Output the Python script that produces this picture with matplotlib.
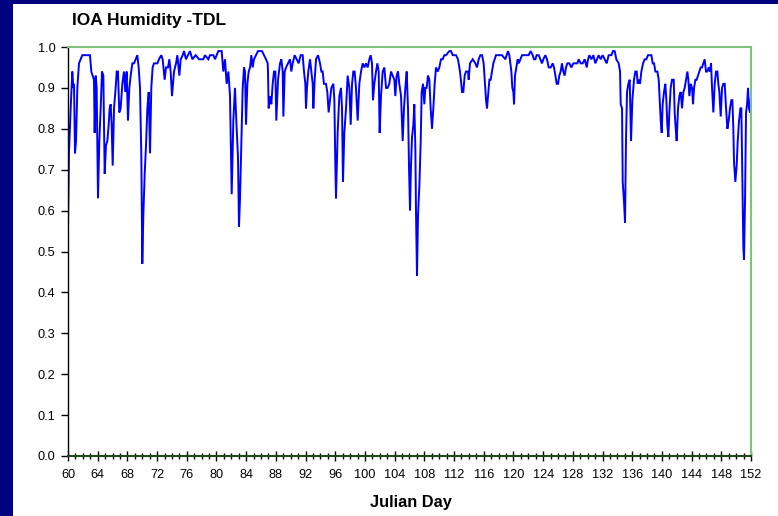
#!/usr/bin/env python3

import matplotlib
matplotlib.use("Agg")
import matplotlib.pyplot as plt
from matplotlib.patches import Rectangle

title = "IOA Humidity -TDL"
xlabel = "Julian Day"

day = [
    60.00, 60.13, 60.36, 60.58, 60.72, 60.81, 60.94, 61.08, 61.26, 61.48, 61.71, 61.93,
    62.96, 63.14, 63.32, 63.50, 63.59, 63.73, 63.86, 64.04, 64.22, 64.40, 64.58, 64.76,
    64.94, 65.12, 65.30, 65.48, 65.61, 65.75, 65.88, 66.02, 66.20, 66.42, 66.56, 66.73,
    66.91, 67.09, 67.32, 67.54, 67.72, 67.90, 68.08, 68.26, 68.44, 68.67, 68.89, 69.11,
    69.34, 69.52, 69.70, 69.88, 70.01, 70.15, 70.33, 70.51, 70.69, 70.87, 71.05, 71.22,
    71.40, 71.58, 72.03, 72.26, 72.57, 72.75, 73.02, 73.20, 73.47, 73.65, 73.83, 74.01,
    74.28, 74.55, 74.73, 75.00, 75.18, 75.45, 75.63, 75.89, 76.16, 76.43, 76.75, 77.20,
    77.65, 78.23, 78.45, 78.90, 79.13, 79.58, 79.80, 80.03, 80.25, 80.70, 80.92, 81.15,
    81.37, 81.60, 81.82, 82.05, 82.27, 82.49, 82.72, 82.90, 83.03, 83.17, 83.35, 83.53,
    83.71, 83.84, 83.98, 84.16, 84.34, 84.52, 84.70, 84.87, 85.05, 85.32, 85.59, 85.86,
    86.13, 86.40, 86.67, 86.90, 86.94, 87.03, 87.21, 87.39, 87.57, 87.75, 87.93, 88.06,
    88.29, 88.56, 88.74, 88.92, 89.01, 89.19, 89.37, 89.63, 89.90, 90.08, 90.26, 90.53,
    90.80, 91.07, 91.34, 91.61, 91.79, 91.97, 92.06, 92.19, 92.37, 92.60, 92.78, 92.96,
    93.05, 93.23, 93.41, 93.68, 93.95, 94.13, 94.30, 94.48, 94.75, 94.93, 95.11, 95.29,
    95.47, 95.74, 95.88, 96.01, 96.10, 96.32, 96.55, 96.77, 96.91, 97.04, 97.22, 97.45,
    97.67, 97.90, 98.08, 98.26, 98.43, 98.61, 98.79, 99.02, 99.24, 99.47, 99.69, 99.92,
    100.14, 100.37, 100.59, 100.77, 100.95, 101.08, 101.26, 101.49, 101.67, 101.85, 101.98, 102.16,
    102.39, 102.61, 102.84, 103.06, 103.28, 103.51, 103.73, 103.96, 104.09, 104.27, 104.45, 104.63,
    104.86, 105.08, 105.26, 105.44, 105.62, 105.80, 105.93, 106.07, 106.20, 106.34, 106.52, 106.65,
    106.79, 106.88, 107.01, 107.15, 107.33, 107.51, 107.64, 107.82, 108.00, 108.13, 108.31, 108.49,
    108.67, 108.85, 109.03, 109.21, 109.39, 109.57, 109.80, 110.02, 110.24, 110.47, 110.69, 110.92,
    111.37, 111.59, 111.82, 112.27, 112.53, 112.80, 112.98, 113.07, 113.25, 113.43, 113.61, 113.88,
    113.97, 114.15, 114.51, 114.87, 115.09, 115.32, 115.54, 115.77, 115.99, 116.13, 116.31, 116.44,
    116.58, 116.76, 116.93, 117.11, 117.29, 117.47, 117.65, 118.01, 118.46, 118.91, 119.09, 119.27,
    119.45, 119.58, 119.72, 119.85, 119.99, 120.08, 120.21, 120.39, 120.57, 120.71, 120.93, 121.16,
    121.60, 122.05, 122.32, 122.59, 122.77, 122.95, 123.13, 123.40, 123.63, 123.85, 124.03, 124.30,
    124.52, 124.75, 125.02, 125.29, 125.47, 125.65, 125.83, 126.01, 126.18, 126.36, 126.54, 126.72,
    126.90, 127.08, 127.26, 127.53, 127.80, 128.07, 128.34, 128.61, 128.79, 129.06, 129.33, 129.60,
    129.87, 130.05, 130.23, 130.50, 130.77, 131.03, 131.26, 131.48, 131.75, 132.02, 132.29, 132.56,
    132.83, 133.19, 133.41, 133.64, 133.86, 134.18, 134.36, 134.45, 134.63, 134.72, 134.90, 135.03,
    135.16, 135.30, 135.48, 135.66, 135.84, 136.02, 136.24, 136.42, 136.60, 136.74, 136.87, 137.05,
    137.23, 137.46, 137.68, 137.90, 138.13, 138.58, 138.76, 138.94, 139.12, 139.39, 139.57, 139.70,
    139.84, 139.97, 140.10, 140.28, 140.46, 140.60, 140.73, 140.87, 141.00, 141.18, 141.36, 141.59,
    141.72, 141.86, 141.99, 142.17, 142.35, 142.53, 142.71, 142.89, 143.07, 143.25, 143.43, 143.56,
    143.70, 143.88, 144.06, 144.19, 144.33, 144.51, 144.68, 144.86, 145.04, 145.22, 145.40, 145.58,
    145.76, 145.94, 146.12, 146.30, 146.48, 146.62, 146.75, 146.93, 147.11, 147.29, 147.47, 147.60,
    147.74, 147.92, 148.10, 148.28, 148.46, 148.64, 148.82, 149.00, 149.17, 149.35, 149.49, 149.62,
    149.71, 149.89, 150.07, 150.21, 150.39, 150.57, 150.70, 150.84, 150.97, 151.06, 151.20, 151.33,
    151.47, 151.60, 151.73, 151.86, 152.00,
]

humidity = [
    0.56, 0.74, 0.85, 0.94, 0.90, 0.91, 0.74, 0.77, 0.90, 0.96, 0.97, 0.98,
    0.98, 0.94, 0.93, 0.92, 0.79, 0.93, 0.90, 0.63, 0.77, 0.85, 0.94, 0.93,
    0.69, 0.76, 0.77, 0.81, 0.85, 0.86, 0.81, 0.71, 0.85, 0.90, 0.94, 0.94,
    0.84, 0.85, 0.91, 0.94, 0.89, 0.94, 0.82, 0.90, 0.93, 0.96, 0.96, 0.97,
    0.98, 0.95, 0.90, 0.73, 0.47, 0.59, 0.69, 0.76, 0.85, 0.89, 0.74, 0.90,
    0.95, 0.96, 0.96, 0.97, 0.98, 0.97, 0.92, 0.95, 0.95, 0.97, 0.94, 0.88,
    0.94, 0.96, 0.98, 0.93, 0.97, 0.98, 0.99, 0.97, 0.98, 0.99, 0.97, 0.98,
    0.97, 0.97, 0.98, 0.97, 0.98, 0.98, 0.97, 0.98, 0.99, 0.99, 0.94, 0.97,
    0.91, 0.94, 0.88, 0.64, 0.82, 0.90, 0.80, 0.73, 0.56, 0.63, 0.77, 0.90,
    0.95, 0.94, 0.81, 0.91, 0.94, 0.95, 0.98, 0.95, 0.97, 0.98, 0.99, 0.99,
    0.99, 0.98, 0.97, 0.96, 0.94, 0.85, 0.88, 0.86, 0.91, 0.94, 0.94, 0.82,
    0.92, 0.96, 0.97, 0.94, 0.83, 0.94, 0.95, 0.96, 0.97, 0.94, 0.96, 0.98,
    0.97, 0.96, 0.98, 0.98, 0.94, 0.91, 0.85, 0.90, 0.94, 0.97, 0.94, 0.91,
    0.85, 0.92, 0.97, 0.98, 0.96, 0.94, 0.94, 0.91, 0.91, 0.89, 0.84, 0.87,
    0.90, 0.91, 0.87, 0.71, 0.63, 0.79, 0.88, 0.90, 0.85, 0.67, 0.79, 0.85,
    0.93, 0.90, 0.81, 0.91, 0.94, 0.94, 0.90, 0.82, 0.91, 0.94, 0.96, 0.95,
    0.96, 0.95, 0.97, 0.98, 0.96, 0.87, 0.91, 0.94, 0.96, 0.94, 0.79, 0.88,
    0.94, 0.95, 0.90, 0.90, 0.91, 0.94, 0.93, 0.92, 0.88, 0.93, 0.94, 0.91,
    0.88, 0.77, 0.85, 0.90, 0.94, 0.85, 0.71, 0.60, 0.71, 0.78, 0.81, 0.86,
    0.75, 0.59, 0.44, 0.59, 0.66, 0.77, 0.89, 0.91, 0.86, 0.90, 0.90, 0.93,
    0.92, 0.85, 0.80, 0.85, 0.91, 0.95, 0.94, 0.95, 0.97, 0.97, 0.98, 0.98,
    0.99, 0.99, 0.98, 0.98, 0.97, 0.94, 0.91, 0.89, 0.89, 0.93, 0.94, 0.94,
    0.92, 0.96, 0.97, 0.96, 0.95, 0.97, 0.98, 0.98, 0.96, 0.92, 0.87, 0.85,
    0.88, 0.92, 0.92, 0.94, 0.96, 0.97, 0.98, 0.98, 0.98, 0.97, 0.98, 0.99,
    0.98, 0.96, 0.94, 0.90, 0.89, 0.86, 0.93, 0.95, 0.97, 0.96, 0.97, 0.98,
    0.98, 0.98, 0.99, 0.98, 0.97, 0.97, 0.98, 0.98, 0.97, 0.96, 0.97, 0.98,
    0.97, 0.95, 0.95, 0.96, 0.95, 0.93, 0.91, 0.91, 0.93, 0.94, 0.96, 0.94,
    0.93, 0.95, 0.96, 0.96, 0.95, 0.96, 0.96, 0.96, 0.97, 0.96, 0.96, 0.97,
    0.95, 0.97, 0.98, 0.97, 0.98, 0.96, 0.97, 0.98, 0.97, 0.98, 0.97, 0.96,
    0.98, 0.98, 0.99, 0.99, 0.97, 0.96, 0.94, 0.86, 0.85, 0.67, 0.62, 0.57,
    0.77, 0.89, 0.91, 0.92, 0.77, 0.87, 0.92, 0.94, 0.94, 0.91, 0.92, 0.91,
    0.94, 0.96, 0.97, 0.97, 0.98, 0.98, 0.96, 0.96, 0.94, 0.94, 0.92, 0.87,
    0.82, 0.79, 0.86, 0.89, 0.91, 0.87, 0.81, 0.78, 0.84, 0.90, 0.92, 0.92,
    0.84, 0.80, 0.77, 0.85, 0.88, 0.89, 0.85, 0.89, 0.90, 0.92, 0.94, 0.92,
    0.88, 0.91, 0.90, 0.86, 0.90, 0.92, 0.92, 0.93, 0.94, 0.95, 0.95, 0.96,
    0.97, 0.94, 0.94, 0.95, 0.94, 0.96, 0.90, 0.84, 0.91, 0.94, 0.94, 0.91,
    0.89, 0.83, 0.90, 0.91, 0.91, 0.85, 0.80, 0.82, 0.85, 0.87, 0.87, 0.80,
    0.72, 0.67, 0.71, 0.77, 0.82, 0.85, 0.85, 0.67, 0.51, 0.48, 0.63, 0.84,
    0.86, 0.90, 0.85, 0.84, 0.88,
]

yticks = [0.0, 0.1, 0.2, 0.3, 0.4, 0.5, 0.6, 0.7, 0.8, 0.9, 1.0]
xticks = list(range(60, 153, 4))


def main():
  plt.rcParams["font.family"] = ["Liberation Sans", "DejaVu Sans"]
  fig = plt.figure(figsize=(7.78, 5.16), dpi=100, facecolor="#000080")
  # white slide area, navy strips on the left and top
  fig.patches.append(Rectangle((13 / 778, 0), 1, 1 - 4 / 516, transform=fig.transFigure,
                               facecolor="white", edgecolor="none", zorder=-5))

  ax = fig.add_axes([68 / 778, 1 - 456 / 516, 683 / 778, 409 / 516])
  ax.set_zorder(2)
  ax.set_facecolor("white")
  ax.plot(day, humidity, color="#0000FF", linewidth=1.4, solid_joinstyle="miter")

  ax.set_xlim(60, 152)
  ax.set_ylim(0, 1.0)
  ax.set_xticks(xticks)
  ax.set_xticks(range(60, 153), minor=True)
  ax.set_yticks(yticks)
  ax.set_yticklabels(["%.1f" % v for v in yticks])

  for s in ("top", "right"):
    ax.spines[s].set_color("#80C080")
    ax.spines[s].set_linewidth(1.5)
  ax.spines["left"].set_color("black")
  ax.spines["bottom"].set_color("#1f4a1f")
  ax.spines["left"].set_linewidth(1.0)
  ax.spines["bottom"].set_linewidth(1.5)

  ax.tick_params(axis="x", which="major", direction="inout", length=7, width=1,
                 labelsize=9.2, pad=6, colors="black")
  ax.tick_params(axis="x", which="minor", direction="inout", length=4, width=1)
  ax.tick_params(axis="y", which="major", direction="out", length=5, width=1,
                 labelsize=9.2, pad=4)

  fig.text(72 / 778, 1 - 20 / 516, title, fontsize=12.5, fontweight="bold",
           ha="left", va="center", zorder=3)
  fig.text(411 / 778, 1 - 503 / 516, xlabel, fontsize=11.8, fontweight="bold",
           ha="center", va="center", zorder=3)

  fig.savefig("out.png", dpi=100, facecolor=fig.get_facecolor())


if __name__ == "__main__":
  main()
